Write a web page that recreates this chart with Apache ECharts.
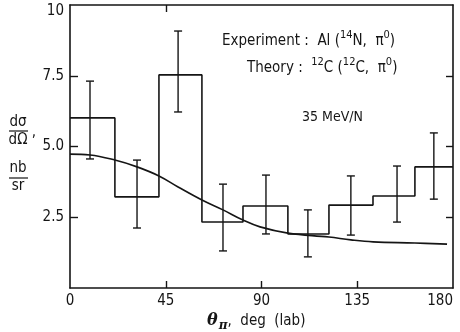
<!DOCTYPE html>
<html>
<head>
<meta charset="utf-8">
<script src="https://cdn.jsdelivr.net/npm/echarts@6/dist/echarts.min.js"></script>
<style>
  html, body { margin: 0; padding: 0; background: #fff; }
  #chart_container { width: 460px; height: 332px; }
</style>
</head>
<body>
<div id="chart_container"></div>
<script>
// values
var binEdges = [0, 21.1, 41.8, 62.0, 81.3, 102.4, 121.7, 142.4, 162.1, 180];
var binValues = [6.01, 3.22, 7.53, 2.33, 2.90, 1.91, 2.93, 3.25, 4.28];
var errAngles = [9.4, 31.5, 50.8, 71.9, 92.1, 111.8, 132.0, 153.7, 171.0];
var errLow = [4.56, 2.12, 6.22, 1.31, 1.91, 1.10, 1.87, 2.33, 3.14];
var errHigh = [7.31, 4.52, 9.08, 3.67, 3.99, 2.76, 3.96, 4.31, 5.48];
var theoryAngles = [0, 9.4, 21.1, 31.5, 41.8, 50.8, 62.0, 71.9, 81.3, 89.3, 102.4, 121.7, 132.0, 142.4, 162.1, 177.2];
var theoryValues = [4.73, 4.70, 4.52, 4.28, 3.96, 3.57, 3.11, 2.76, 2.40, 2.16, 1.94, 1.80, 1.70, 1.63, 1.59, 1.55];
var xTicks = [0, 45, 90, 135, 180];
var yTicks = [0, 2.5, 5, 7.5, 10];

var ink = '#151515';
var font = "'Liberation Sans Narrow', 'DejaVu Sans Condensed', sans-serif";

var dom = document.getElementById("chart_container");
var myChart = echarts.init(dom);

var histData = [];
for (var i = 0; i < binValues.length; i++) {
    histData.push([binEdges[i], binValues[i]]);
}
histData.push([binEdges[binEdges.length - 1], binValues[binValues.length - 1]]);

var errData = errAngles.map(function (a, i) {
    return [a, errLow[i], errHigh[i]];
});

var theoryData = theoryAngles.map(function (a, i) {
    return [a, theoryValues[i]];
});

function errBar(params, api) {
    var lo = api.coord([api.value(0), api.value(1)]);
    var hi = api.coord([api.value(0), api.value(2)]);
    var w = 4;
    var st = { stroke: ink, lineWidth: 1.4 };
    return {
        type: 'group',
        children: [
            { type: 'line', shape: { x1: lo[0], y1: lo[1], x2: hi[0], y2: hi[1] }, style: st },
            { type: 'line', shape: { x1: lo[0] - w, y1: lo[1], x2: lo[0] + w, y2: lo[1] }, style: st },
            { type: 'line', shape: { x1: hi[0] - w, y1: hi[1], x2: hi[0] + w, y2: hi[1] }, style: st }
        ]
    };
}

var axisLineStyle = { show: true, onZero: false, lineStyle: { color: ink, width: 1.6 } };
var tickStyle = { color: ink, width: 1.4 };

var option = {
    backgroundColor: '#fff',
    animation: false,
    grid: { left: 70, right: 7, top: 5, bottom: 44, show: false },
    xAxis: [
        {
            type: 'value', min: 0, max: 180, interval: 45, position: 'bottom',
            axisLine: axisLineStyle,
            axisTick: { show: true, inside: true, length: 7, customValues: [45, 90, 135], lineStyle: tickStyle },
            axisLabel: {
                color: ink, fontFamily: font, fontSize: 15, margin: 6,
                alignMaxLabel: 'right',
                customValues: xTicks
            },
            splitLine: { show: false }
        },
        {
            type: 'value', min: 0, max: 180, interval: 45, position: 'top',
            axisLine: axisLineStyle,
            axisTick: { show: true, inside: true, length: 7, customValues: [45], lineStyle: tickStyle },
            axisLabel: { show: false },
            splitLine: { show: false }
        }
    ],
    yAxis: [
        {
            type: 'value', min: 0, max: 10, interval: 2.5, position: 'left',
            axisLine: axisLineStyle,
            axisTick: { show: true, inside: true, length: 8, customValues: [2.5, 5, 7.5], lineStyle: tickStyle },
            axisLabel: {
                color: ink, fontFamily: font, fontSize: 15, margin: 6,
                formatter: function (v) {
                    if (v === 0) return '';
                    if (v === 10) return '{top|10}';
                    return v.toFixed(1);
                },
                rich: {
                    top: { fontFamily: font, fontSize: 15, color: ink, padding: [12, 0, 0, 0] }
                }
            },
            splitLine: { show: false }
        },
        {
            type: 'value', min: 0, max: 10, interval: 2.5, position: 'right',
            axisLine: axisLineStyle,
            axisTick: { show: true, inside: true, length: 7, customValues: [2.5, 5, 7.5], lineStyle: tickStyle },
            axisLabel: { show: false },
            splitLine: { show: false }
        }
    ],
    series: [
        {
            name: 'Experiment',
            type: 'line',
            step: 'end',
            showSymbol: false,
            data: histData,
            lineStyle: { color: ink, width: 1.6 },
            z: 3
        },
        {
            name: 'Theory',
            type: 'line',
            smooth: 0.4,
            showSymbol: false,
            data: theoryData,
            lineStyle: { color: ink, width: 1.6 },
            z: 3
        },
        {
            name: 'Errors',
            type: 'custom',
            renderItem: errBar,
            data: errData,
            encode: { x: 0, y: [1, 2] },
            z: 4
        }
    ],
    graphic: [
        {
            type: 'text', left: 222, top: 30,
            style: {
                text: '{t|Experiment :  Al (}{s|14}{t|N,  π}{s|0}{t|)}',
                fill: ink,
                rich: {
                    t: { fontFamily: font, fontSize: 15, fill: ink },
                    s: { fontFamily: font, fontSize: 11, fill: ink, padding: [0, 0, 12, 0] }
                }
            }
        },
        {
            type: 'text', left: 247, top: 57,
            style: {
                text: '{t|Theory :  }{s|12}{t|C (}{s|12}{t|C,  π}{s|0}{t|)}',
                fill: ink,
                rich: {
                    t: { fontFamily: font, fontSize: 15, fill: ink },
                    s: { fontFamily: font, fontSize: 11, fill: ink, padding: [0, 0, 12, 0] }
                }
            }
        },
        {
            type: 'text', left: 302, top: 110,
            style: { text: '35 MeV/N', fontFamily: font, fontSize: 14, fill: ink }
        },
        // y axis name as two stacked fractions
        {
            type: 'text', x: 18, y: 122,
            style: { text: 'dσ', fontFamily: font, fontSize: 15, fill: ink, align: 'center', verticalAlign: 'middle' }
        },
        {
            type: 'line', shape: { x1: 9, y1: 131, x2: 28, y2: 131 },
            style: { stroke: ink, lineWidth: 1.2 }
        },
        {
            type: 'text', x: 18, y: 140,
            style: { text: 'dΩ', fontFamily: font, fontSize: 15, fill: ink, align: 'center', verticalAlign: 'middle' }
        },
        {
            type: 'text', x: 34, y: 132,
            style: { text: ',', fontFamily: font, fontSize: 15, fill: ink, align: 'center', verticalAlign: 'middle' }
        },
        {
            type: 'text', x: 18, y: 168,
            style: { text: 'nb', fontFamily: font, fontSize: 15, fill: ink, align: 'center', verticalAlign: 'middle' }
        },
        {
            type: 'line', shape: { x1: 9, y1: 178, x2: 28, y2: 178 },
            style: { stroke: ink, lineWidth: 1.2 }
        },
        {
            type: 'text', x: 18, y: 186,
            style: { text: 'sr', fontFamily: font, fontSize: 15, fill: ink, align: 'center', verticalAlign: 'middle' }
        },
        // x axis name
        {
            type: 'text', left: 207, top: 313,
            style: {
                text: '{th|θ}{pi|π}{t|,  deg  (lab)}',
                fill: ink,
                rich: {
                    th: { fontFamily: 'DejaVu Serif', fontStyle: 'italic', fontWeight: 'bold', fontSize: 16, fill: ink },
                    pi: { fontFamily: 'DejaVu Serif', fontStyle: 'italic', fontWeight: 'bold', fontSize: 12, fill: ink, padding: [9, 0, 0, 1] },
                    t: { fontFamily: font, fontSize: 15, fill: ink }
                }
            }
        }
    ]
};

myChart.setOption(option, true);
</script>
</body>
</html>
